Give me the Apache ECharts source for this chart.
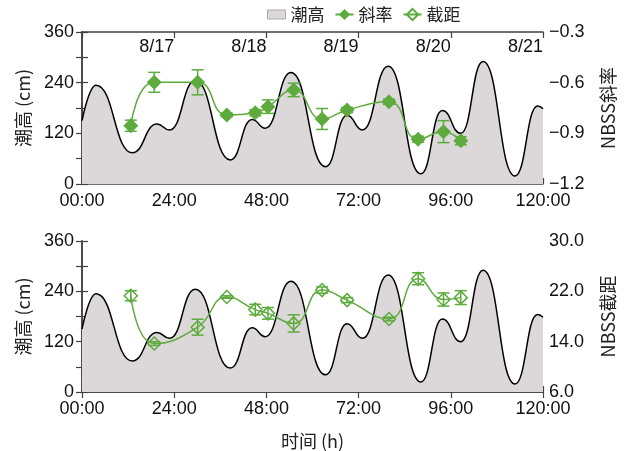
<!DOCTYPE html>
<html><head><meta charset="utf-8">
<script src="https://cdn.jsdelivr.net/npm/echarts@6/dist/echarts.min.js"></script>
<style>html,body{margin:0;padding:0;background:#fff}#c{width:629px;height:451px}</style>
</head><body><div id="c"></div>
<script>
// ---- data ----
const tideTime = [0, 3.65, 13.1, 19.5, 22.8, 29.5, 38.6, 44.3, 47.7, 54.4, 63.4, 69.0, 73.0, 79.7, 88.2, 93.8, 98.6, 104.4, 112.7, 118.6, 120];
const tideHeight = [150, 234, 74, 142, 128, 245, 57, 153, 132, 264, 41, 163, 128, 279, 24, 174, 120, 290, 19, 185, 178];
const sampleTime = [12.7, 18.8, 30.1, 37.7, 45.1, 48.4, 55.1, 62.5, 69.0, 79.9, 87.5, 94.1, 98.6];
const slope = [-0.855, -0.598, -0.598, -0.791, -0.778, -0.742, -0.643, -0.815, -0.762, -0.713, -0.935, -0.890, -0.944];
const slopeErr = [0.033, 0.059, 0.074, 0.01, 0.018, 0.04, 0.04, 0.062, 0.015, 0.015, 0.018, 0.065, 0.024];
const intercept = [21.3, 13.7, 16.3, 21.1, 19.1, 18.5, 16.9, 22.2, 20.6, 17.6, 24.0, 20.7, 21.0];
const interceptErr = [0.8, 0.3, 1.26, 0.2, 0.84, 0.92, 1.37, 0.5, 0.4, 0.3, 0.95, 1.05, 1.1];
const timeTicks = ['00:00', '24:00', '48:00', '72:00', '96:00', '120:00'];
const dateTicks = ['', '8/17', '8/18', '8/19', '8/20', '8/21'];
const INTERCEPT_MIN = 6; // intercept axis runs 6.0 .. 30.0 (plotted with this offset)

const GREEN = '#5cab3c';
const FONT = "'Liberation Sans', 'Noto Sans CJK SC', sans-serif";
const CJK = "'Noto Sans CJK SC', 'Liberation Sans', sans-serif";
const AX = '#404040';

const tideData = tideTime.map((t, i) => [t, tideHeight[i]]);
const slopeData = sampleTime.map((t, i) => [t, slope[i]]);
const slopeErrData = sampleTime.map((t, i) => [t, slope[i] - slopeErr[i], slope[i] + slopeErr[i]]);
const icpData = sampleTime.map((t, i) => [t, intercept[i] - INTERCEPT_MIN]);
const icpErrData = sampleTime.map((t, i) => [t, intercept[i] - interceptErr[i] - INTERCEPT_MIN, intercept[i] + interceptErr[i] - INTERCEPT_MIN]);

function errRender(params, api) {
  const x = api.value(0);
  const lo = api.coord([x, api.value(1)]);
  const hi = api.coord([x, api.value(2)]);
  const w = 6;
  const st = { stroke: GREEN, lineWidth: 1.5 };
  return { type: 'group', children: [
    { type: 'line', shape: { x1: lo[0], y1: lo[1], x2: hi[0], y2: hi[1] }, style: st },
    { type: 'line', shape: { x1: lo[0] - w, y1: lo[1], x2: lo[0] + w, y2: lo[1] }, style: st },
    { type: 'line', shape: { x1: hi[0] - w, y1: hi[1], x2: hi[0] + w, y2: hi[1] }, style: st }
  ]};
}

function xBottom(gridIndex, withName) {
  return {
    type: 'value', gridIndex, position: 'bottom', min: 0, max: 120, interval: 24,
    axisLine: { show: true, lineStyle: { color: AX, width: 1.5 } },
    axisTick: { show: true, inside: true, length: 6, lineStyle: { color: AX, width: 1.2 } },
    minorTick: { show: true, splitNumber: 2, length: 6, lineStyle: { color: AX, width: 1.2 } },
    splitLine: { show: false },
    axisLabel: { color: '#111', fontSize: 18, fontFamily: FONT, margin: 8,
      formatter: v => timeTicks[Math.round(v / 24)] },
    name: withName ? '时间 (h)' : '', nameLocation: 'middle', nameGap: 40,
    nameTextStyle: { color: '#222', fontSize: 18, fontFamily: CJK }
  };
}
function xTop(gridIndex, labels) {
  return {
    type: 'value', gridIndex, position: 'top', min: 0, max: 120, interval: 24,
    axisLine: { show: true, lineStyle: { color: AX, width: 1.5 } },
    axisTick: { show: true, inside: true, length: 6, lineStyle: { color: AX, width: 1.2 } },
    splitLine: { show: false },
    axisLabel: { show: labels, inside: true, align: 'right', margin: 6, color: '#111', fontSize: 18, fontFamily: FONT,
      formatter: v => dateTicks[Math.round(v / 24)] }
  };
}
function yLeft(gridIndex) {
  return {
    type: 'value', gridIndex, position: 'left', min: 0, max: 360, interval: 120,
    axisLine: { show: true, lineStyle: { color: AX, width: 1.5 } },
    axisTick: { show: true, inside: true, length: 6, lineStyle: { color: AX, width: 1.2 } },
    minorTick: { show: true, splitNumber: 2, length: 6, lineStyle: { color: AX, width: 1.2 } },
    splitLine: { show: false },
    axisLabel: { color: '#111', fontSize: 18, fontFamily: FONT, margin: 8 },
    name: '潮高 (cm)', nameLocation: 'middle', nameGap: 50, nameRotate: 90,
    nameTextStyle: { color: '#222', fontSize: 18, fontFamily: CJK }
  };
}
function yRight(gridIndex, min, max, interval, fmt, name) {
  return {
    type: 'value', gridIndex, position: 'right', min, max, interval,
    axisLine: { show: true, lineStyle: { color: AX, width: 1.5 } },
    axisTick: { show: true, inside: true, length: 6, lineStyle: { color: AX, width: 1.2 } },
    minorTick: { show: true, splitNumber: 2, length: 6, lineStyle: { color: AX, width: 1.2 } },
    splitLine: { show: false },
    axisLabel: { color: '#111', fontSize: 18, fontFamily: FONT, margin: 6, formatter: fmt },
    name, nameLocation: 'middle', nameGap: 56, nameRotate: 90,
    nameTextStyle: { color: '#222', fontSize: 18, fontFamily: CJK }
  };
}

const chart = echarts.init(document.getElementById('c'), null, { renderer: 'canvas' });
chart.setOption({
  animation: false,
  backgroundColor: '#fff',
  textStyle: { fontFamily: FONT },
  legend: {
    left: 262, top: 1, itemWidth: 18, itemHeight: 14, itemGap: 10,
    textStyle: { fontSize: 17, color: '#222', fontFamily: CJK },
    data: [
      { name: '潮高', icon: 'path://M0,0M0,2.5L18,2.5L18,11.5L0,11.5Z M18,14',
        itemStyle: { color: '#dcd8d9', borderColor: '#aaaaaa', borderWidth: 1 } },
      '斜率', '截距'
    ]
  },
  grid: [
    { left: 82, right: 86, top: 32, height: 152 },
    { left: 82, right: 86, top: 241, height: 152 }
  ],
  xAxis: [xBottom(0, false), xTop(0, true), xBottom(1, true), xTop(1, false)],
  yAxis: [
    yLeft(0),
    yRight(0, -1.2, -0.3, 0.3, v => (v < 0 ? '\u2212' : '') + Math.abs(v).toFixed(1), 'NBSS斜率'),
    yLeft(1),
    yRight(1, 0, 24, 8, v => (v + INTERCEPT_MIN).toFixed(1), 'NBSS截距')
  ],
  graphic: [
    { type: 'text', left: 95, top: 157, style: { text: 'a', fontSize: 19, fill: '#111', fontFamily: FONT } },
    { type: 'text', left: 95, top: 366, style: { text: 'b', fontSize: 19, fill: '#111', fontFamily: FONT } }
  ],
  series: [
    { name: '潮高', type: 'line', xAxisIndex: 0, yAxisIndex: 0, data: tideData, smooth: 0.5, smoothMonotone: 'x',
      symbol: 'none', lineStyle: { color: '#000', width: 1.5 }, itemStyle: { color: '#dcd8d9' },
      areaStyle: { color: '#dcd8d9', opacity: 1 }, z: 1 },
    { name: '潮高', type: 'line', xAxisIndex: 2, yAxisIndex: 2, data: tideData, smooth: 0.5, smoothMonotone: 'x',
      symbol: 'none', lineStyle: { color: '#000', width: 1.5 }, itemStyle: { color: '#dcd8d9' },
      areaStyle: { color: '#dcd8d9', opacity: 1 }, z: 1 },
    { name: '斜率', type: 'line', xAxisIndex: 0, yAxisIndex: 1, data: slopeData, smooth: 0.5,
      symbol: 'diamond', symbolSize: 15, showAllSymbol: true,
      lineStyle: { color: GREEN, width: 1.5 }, itemStyle: { color: GREEN }, z: 4 },
    { name: '截距', type: 'line', xAxisIndex: 2, yAxisIndex: 3, data: icpData, smooth: 0.5,
      symbol: 'diamond', symbolSize: 13, showAllSymbol: true,
      lineStyle: { color: GREEN, width: 1.5 }, itemStyle: { color: 'rgba(255,255,255,0)', borderColor: GREEN, borderWidth: 1.5 }, z: 4 },
    { name: '斜率误差', type: 'custom', xAxisIndex: 0, yAxisIndex: 1, data: slopeErrData, renderItem: errRender, z: 3 },
    { name: '截距误差', type: 'custom', xAxisIndex: 2, yAxisIndex: 3, data: icpErrData, renderItem: errRender, z: 3 }
  ]
});
</script>
</body></html>
